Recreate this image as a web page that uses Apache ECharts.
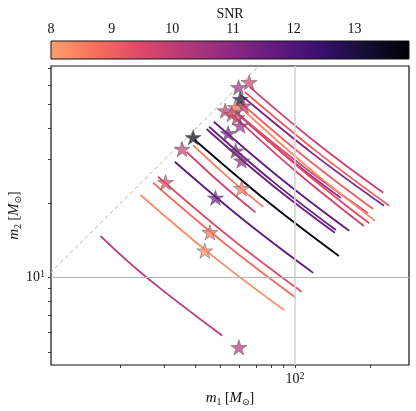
<!DOCTYPE html>
<html>
<head>
<meta charset="utf-8">
<script src="https://cdn.jsdelivr.net/npm/echarts@6/dist/echarts.min.js"></script>
<style>
  html, body { margin: 0; padding: 0; background: #fff; }
  #chart { width: 416px; height: 411px; }
</style>
</head>
<body>
<div id="chart"></div>
<script>
// axis limits, solar masses
var m1Min = 10.5, m1Max = 287;
var m2Min = 4.42, m2Max = 71.7;
var snrMin = 8, snrMax = 13.9;

var m1Ticks = [20, 30, 40, 50, 60, 70, 80, 90, 100, 200];
var m2Ticks = [5, 6, 7, 8, 9, 10, 20, 30, 40, 50, 60, 70];
var m1Labels = [100];
var m2Labels = [10];
var snrTicks = [8, 9, 10, 11, 12, 13];
var equalMass = [5, 300];

// tracks: start / middle / end point [m1, m2] and SNR
var trackStart = [
  [16.6, 14.7], [24.0, 21.54], [26.97, 24.15], [28.25, 25.55], [32.96, 29.38],
  [36.73, 32.25], [39.05, 34.3], [39.66, 35.97], [44.2, 39.85], [45.3, 40.7],
  [47.3, 42.66], [60.1, 44.98], [57.9, 46.7], [55.85, 45.8], [56.9, 47.6],
  [59.0, 49.85], [60.1, 51.25], [60.7, 54.7], [63.0, 56.3], [65.97, 58.9]
];
var trackMid = [
  [25.4, 10.0], [46.6, 12.25], [52.15, 13.74], [54.8, 14.53], [62.5, 17.03],
  [50.5, 23.98], [53.96, 25.4], [77.2, 20.37], [80.0, 23.89], [81.4, 24.46],
  [88.4, 24.96], [95.9, 30.0], [106.7, 28.35], [102.8, 26.44], [106.4, 27.28],
  [111.2, 28.26], [111.4, 30.27], [117.6, 31.76], [122.8, 32.2], [122.2, 34.98]
];
var trackEnd = [
  [51.05, 5.82], [90.6, 7.37], [100.9, 8.27], [106.4, 8.74], [118.4, 10.43],
  [69.5, 18.33], [74.6, 19.3], [150.2, 12.2], [144.7, 15.16], [146.1, 15.54],
  [165.2, 15.44], [153.0, 20.94], [196.4, 18.2], [189.3, 16.13], [198.8, 16.55],
  [209.6, 16.95], [206.3, 18.9], [227.8, 19.5], [239.2, 19.5], [226.3, 22.0]
];
var trackSnr = [10.2, 8.3, 8.8, 9.4, 11.8, 9.7, 8.6, 13.8, 11.5, 11.6,
                11.7, 10.7, 9.5, 9.7, 9.4, 8.3, 9.0, 11.2, 9.1, 9.8];

// star markers
var starM1 = [59.6, 45.6, 43.5, 48.0, 61.1, 30.25, 35.27, 39.05, 53.96, 57.9,
              61.1, 59.4, 65.5, 60.3, 62.2, 52.5, 57.6, 55.85, 58.5, 60.3];
var starM2 = [5.21, 15.21, 12.82, 21.0, 22.93, 24.25, 33.06, 36.9, 38.3, 32.55,
              29.66, 58.8, 61.6, 52.7, 49.5, 47.3, 48.8, 45.8, 44.4, 41.1];
var starSnr = [10.3, 8.7, 8.3, 11.6, 8.5, 9.5, 10.0, 13.8, 11.5, 11.3,
               11.0, 10.6, 9.9, 13.3, 10.2, 10.1, 8.7, 9.4, 9.8, 10.8];

// magma at 0, 0.1 ... 0.8 (reversed on the colour bar)
var magma = ['#000004', '#140e36', '#3b0f70', '#641a80', '#8c2981',
             '#b73779', '#de4968', '#f7705c', '#fe9f6d'];

function hexRgb(h) {
  return [parseInt(h.substr(1, 2), 16), parseInt(h.substr(3, 2), 16), parseInt(h.substr(5, 2), 16)];
}
function snrColor(s) {
  var t = (snrMax - s) / (snrMax - snrMin) * 8;
  t = Math.max(0, Math.min(8, t));
  var i = Math.min(7, Math.floor(t)), f = t - i;
  var a = hexRgb(magma[i]), b = hexRgb(magma[i + 1]);
  var c = a.map(function (v, k) { return Math.round(v + (b[k] - v) * f); });
  return 'rgb(' + c.join(',') + ')';
}
function lg(v) { return Math.log10(v); }
function lp(p) { return [lg(p[0]), lg(p[1])]; }

var serif = 'Liberation Serif';
var rich = {
  n: { fontFamily: serif, fontSize: 14, color: '#111', lineHeight: 18 },
  i: { fontFamily: serif, fontStyle: 'italic', fontSize: 15, color: '#111', lineHeight: 18 },
  sub: { fontFamily: serif, fontSize: 10, color: '#111', lineHeight: 10, verticalAlign: 'bottom' },
  sun: { fontFamily: 'DejaVu Sans', fontSize: 9, color: '#111', lineHeight: 10, verticalAlign: 'bottom' },
  b: { fontFamily: serif, fontSize: 14, color: '#111', lineHeight: 17 },
  sup: { fontFamily: serif, fontSize: 10, color: '#111', lineHeight: 10, verticalAlign: 'top' }
};
function powLabel(v) { return '{b|10}{sup|' + Math.round(v) + '}'; }

var gradStops = magma.map(function (c, k) {
  return { offset: (8 - k) / 8, color: c };
});

var series = [];

// m1 = m2 line plus the major grid lines
series.push({
  type: 'line',
  xAxisIndex: 0, yAxisIndex: 0,
  data: equalMass.map(function (v) { return [lg(v), lg(v)]; }),
  showSymbol: false,
  clip: true,
  z: 1,
  lineStyle: { color: '#aaaaaa', width: 0.9, type: [4, 3] },
  markLine: {
    silent: true,
    symbol: ['none', 'none'],
    label: { show: false },
    data: [
      { xAxis: lg(m1Labels[0]), lineStyle: { color: '#d6d6d6', width: 1.6, type: 'solid' } },
      { yAxis: lg(m2Labels[0]), lineStyle: { color: '#b3b3b3', width: 1, type: 'solid' } }
    ]
  }
});

for (var k = 0; k < trackSnr.length; k++) {
  series.push({
    type: 'line',
    xAxisIndex: 0, yAxisIndex: 0,
    data: [lp(trackStart[k]), lp(trackMid[k]), lp(trackEnd[k])],
    smooth: 0.4,
    showSymbol: false,
    z: 2,
    lineStyle: { color: snrColor(trackSnr[k]), width: 1.8 }
  });
}

series.push({
  type: 'scatter',
  xAxisIndex: 0, yAxisIndex: 0,
  symbol: 'path://M50,0 L61.23,34.55 L97.55,34.55 L68.17,55.9 L79.39,90.45 L50,69.1 L20.61,90.45 L31.83,55.9 L2.45,34.55 L38.77,34.55 Z',
  symbolSize: [16, 15.2],
  z: 3,
  data: starM1.map(function (m, k) {
    return {
      value: [lg(m), lg(starM2[k])],
      itemStyle: { color: snrColor(starSnr[k]), opacity: 0.7, borderColor: '#555', borderWidth: 0.7 }
    };
  })
});

// colour bar
series.push({
  type: 'custom',
  xAxisIndex: 1, yAxisIndex: 1,
  data: [[snrMin, snrMax]],
  renderItem: function (params, api) {
    var p0 = api.coord([api.value(0), 0]);
    var p1 = api.coord([api.value(1), 1]);
    return {
      type: 'rect',
      shape: { x: p0[0], y: p1[1], width: p1[0] - p0[0], height: p0[1] - p1[1] },
      style: {
        fill: new echarts.graphic.LinearGradient(0, 0, 1, 0, gradStops),
        stroke: '#111', lineWidth: 1
      }
    };
  }
});

var chart = echarts.init(document.getElementById('chart'));
chart.setOption({
  animation: false,
  backgroundColor: '#fff',
  grid: [
    { left: 51, right: 7, top: 66, bottom: 46, outerBoundsMode: 'none', containLabel: false,
      show: true, borderColor: '#111', borderWidth: 1.2, backgroundColor: 'rgba(0,0,0,0)' },
    { left: 51, right: 7, top: 41, height: 18, outerBoundsMode: 'none', containLabel: false }
  ],
  xAxis: [
    {
      gridIndex: 0, type: 'value',
      min: lg(m1Min), max: lg(m1Max),
      axisLine: { show: false },
      splitLine: { show: false },
      axisTick: { customValues: m1Ticks.map(lg), length: 3, lineStyle: { color: '#111', width: 0.8 } },
      axisLabel: { customValues: m1Labels.map(lg), margin: 6, formatter: powLabel, rich: rich },
      name: '{i|m}{sub|1} {n|[}{i|M}{sun|⊙}{n|]}',
      nameLocation: 'middle', nameGap: 24, nameMoveOverlap: false,
      nameTextStyle: { rich: rich }
    },
    {
      gridIndex: 1, type: 'value', position: 'top',
      min: snrMin, max: snrMax,
      axisLine: { show: false },
      splitLine: { show: false },
      axisTick: { customValues: snrTicks, length: 3, lineStyle: { color: '#111', width: 0.8 } },
      axisLabel: { customValues: snrTicks, margin: 5, fontFamily: serif, fontSize: 14, color: '#111' },
      name: 'SNR', nameLocation: 'middle', nameGap: 20, nameMoveOverlap: false,
      nameTextStyle: { fontFamily: serif, fontSize: 14, color: '#111' }
    }
  ],
  yAxis: [
    {
      gridIndex: 0, type: 'value',
      min: lg(m2Min), max: lg(m2Max),
      axisLine: { show: false },
      splitLine: { show: false },
      axisTick: { customValues: m2Ticks.map(lg), length: 3, lineStyle: { color: '#111', width: 0.8 } },
      axisLabel: { customValues: m2Labels.map(lg), margin: 6, formatter: powLabel, rich: rich },
      name: '{i|m}{sub|2} {n|[}{i|M}{sun|⊙}{n|]}',
      nameLocation: 'middle', nameGap: 28, nameRotate: 90, nameMoveOverlap: false,
      nameTextStyle: { rich: rich }
    },
    {
      gridIndex: 1, type: 'value', min: 0, max: 1, show: false
    }
  ],
  series: series
});
</script>
</body>
</html>
